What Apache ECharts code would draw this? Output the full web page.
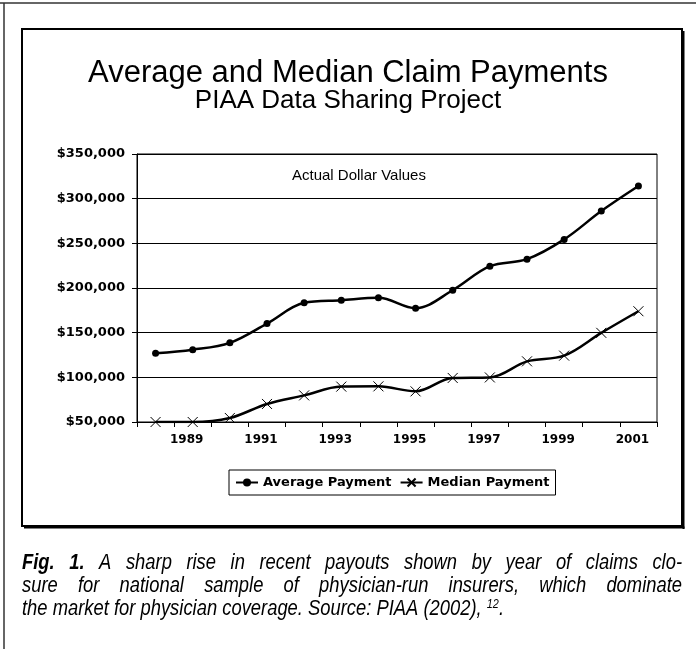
<!DOCTYPE html>
<html>
<head>
<meta charset="utf-8">
<script src="https://cdn.jsdelivr.net/npm/echarts@6/dist/echarts.min.js"></script>
<style>
html,body{margin:0;padding:0;background:#fff;}
#chart{width:696px;height:649px;}
</style>
</head>
<body>
<div id="chart"></div>
<script>
var years = ['1988','1989','1990','1991','1992','1993','1994','1995','1996','1997','1998','1999','2000','2001'];
var averagePayment = [127000,131000,138600,160200,183400,186300,189000,177400,197500,224400,232300,254400,286100,314100];
var medianPayment = [50000,50000,54500,70200,79800,89600,89900,84300,99300,99900,117900,124300,149800,174000];
var yTicks = {min:50000, max:350000, step:50000};
var captionLines = [
  'Fig. 1. A sharp rise in recent payouts shown by year of claims clo-',
  'sure for national sample of physician-run insurers, which dominate',
  'the market for physician coverage. Source: PIAA (2002),'
];
var captionRef = '12';

var chart = echarts.init(document.getElementById('chart'), null, {renderer:'canvas'});
var boldFont = 'DejaVu Sans';
var crossPath = 'path://M0,0L10,10M10,0L0,10';

// caption: condensed italic (horizontally scaled) and justified like the original
var cv = document.createElement('canvas').getContext('2d');
function mw(font, t){cv.font = font; return cv.measureText(t).width;}
var fam = '"Liberation Sans", Arial, sans-serif';
var capSize = 22;
function f(sz,bold){return 'italic '+(bold?'bold ':'')+sz+'px '+fam;}
var supSize = 13;
var w3 = mw(f(capSize), captionLines[2]+' ') + mw(f(supSize), captionRef) + mw(f(capSize), '.');
var k = 482 / w3;
var capLeft = 22, capWidth = 660, capTop = 552, capStep = 23;
var capGraphics = [];
for (var li=0; li<2; li++){
  var words = captionLines[li].split(' ');
  var bolds = words.map(function(w,i){return li===0 && i<2;});
  var widths = words.map(function(w,i){return k*mw(f(capSize,bolds[i]), w);});
  var tot = widths.reduce(function(a,b){return a+b;},0);
  var gap = (capWidth - tot)/(words.length-1);
  var x = capLeft;
  words.forEach(function(w,i){
    capGraphics.push({type:'text',x:x,y:capTop+li*capStep,scaleX:k,silent:true,
      style:{text:w,font:f(capSize,bolds[i]),fill:'#000',verticalAlign:'top'}});
    x += widths[i]+gap;
  });
}
capGraphics.push({type:'text',x:capLeft,y:capTop+2*capStep,scaleX:k,silent:true,style:{
  text:captionLines[2]+' {s|'+captionRef+'}.',font:f(capSize),fill:'#000',verticalAlign:'top',
  rich:{s:{font:f(supSize),fill:'#000',verticalAlign:'top',padding:[0,0,9,0]}}}});

chart.setOption({
  animation:false,
  backgroundColor:'#fff',
  grid:{left:137,right:39,top:154,bottom:227,show:true,borderColor:'#000',borderWidth:1,backgroundColor:'transparent'},
  legend:{
    left:229, top:470,
    padding:[6,6],
    borderColor:'#000', borderWidth:1,
    itemWidth:22, itemHeight:10, itemGap:8,
    textStyle:{fontFamily:boldFont,fontWeight:'bold',fontSize:13,color:'#000'},
    data:['Average Payment','Median Payment']
  },
  xAxis:{
    type:'category', data:years, boundaryGap:true,
    axisLine:{lineStyle:{color:'#000',width:1}},
    axisTick:{show:true,interval:0,length:5,lineStyle:{color:'#000'}},
    axisLabel:{interval:0,margin:12,padding:[0,12,0,0],fontFamily:boldFont,fontWeight:'bold',fontSize:12,color:'#000',
      formatter:function(v,i){return i%2===1?v:'';}},
    splitLine:{show:false}
  },
  yAxis:{
    type:'value', min:yTicks.min, max:yTicks.max, interval:yTicks.step,
    axisLine:{show:true,lineStyle:{color:'#000',width:1}},
    axisTick:{show:true,length:5,lineStyle:{color:'#000'}},
    axisLabel:{margin:12,fontFamily:boldFont,fontWeight:'bold',fontSize:13,color:'#000',
      formatter:function(v){return '$'+v.toLocaleString('en-US');}},
    splitLine:{show:true,lineStyle:{color:'#000',width:1}}
  },
  series:[
    {name:'Average Payment',type:'line',data:averagePayment,smooth:0.35,
      symbol:'circle',symbolSize:7,
      lineStyle:{color:'#000',width:2.5},
      itemStyle:{color:'#000'}},
    {name:'Median Payment',type:'line',data:medianPayment,smooth:0.35,
      symbol:crossPath,symbolSize:10,
      lineStyle:{color:'#000',width:2.5},
      itemStyle:{color:'#000',borderColor:'#000',borderWidth:1}}
  ],
  graphic:[
    {type:'line',shape:{x1:0,y1:3,x2:696,y2:3},style:{stroke:'#333',lineWidth:1.5},silent:true},
    {type:'line',shape:{x1:4,y1:3,x2:4,y2:649},style:{stroke:'#333',lineWidth:1.5},silent:true},
    {type:'rect',shape:{x:22,y:29,width:660,height:497},style:{fill:'none',stroke:'#000',lineWidth:2},silent:true},
    {type:'line',shape:{x1:683.5,y1:31,x2:683.5,y2:529},style:{stroke:'#000',lineWidth:2},silent:true},
    {type:'line',shape:{x1:24,y1:527.5,x2:684.5,y2:527.5},style:{stroke:'#000',lineWidth:2},silent:true},
    {type:'text',left:'center',top:58,style:{text:'Average and Median Claim Payments',font:'31px "Liberation Sans", Arial, sans-serif',fill:'#000'}},
    {type:'text',left:'center',top:88,style:{text:'PIAA Data Sharing Project',font:'26px "Liberation Sans", Arial, sans-serif',fill:'#000'}},
    {type:'text',left:292,top:168,style:{text:'Actual Dollar Values',font:'15px "Liberation Sans", Arial, sans-serif',fill:'#000'}}
  ].concat(capGraphics)
});
</script>
</body>
</html>
